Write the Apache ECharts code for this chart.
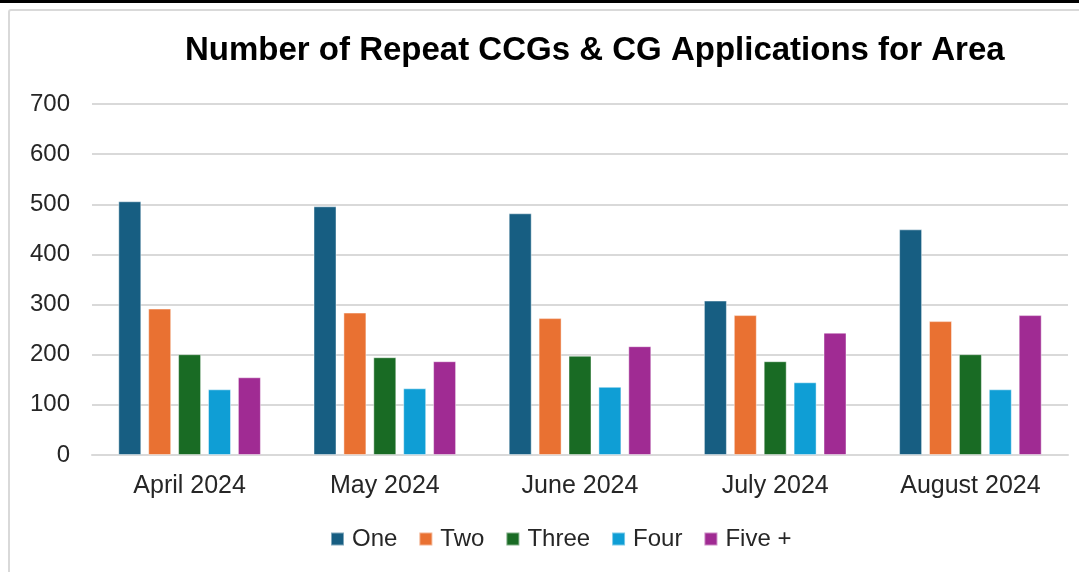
<!DOCTYPE html>
<html>
<head>
<meta charset="utf-8">
<script src="https://cdn.jsdelivr.net/npm/echarts@6/dist/echarts.min.js"></script>
<style>
  html, body { margin: 0; padding: 0; background: #fff; }
  .topbar { position: absolute; left: 0; top: 0; width: 1079px; height: 3px; background: #000; }
  .frame { position: absolute; left: 8px; top: 9px; width: 1100px; height: 600px; border: 2px solid #d9d9d9; border-radius: 3px; }
  #chart { position: absolute; left: 0; top: 0; width: 1079px; height: 572px; }
</style>
</head>
<body>
<div class="topbar"></div>
<div class="frame"></div>
<div id="chart"></div>
<script>
// months on the x axis
var months = ['April 2024', 'May 2024', 'June 2024', 'July 2024', 'August 2024'];
// number of repeat applications per group
var one   = [506, 496, 482, 308, 450];
var two   = [292, 284, 273, 279, 267];
var three = [201, 195, 198, 187, 201];
var four  = [131, 133, 136, 145, 131];
var five  = [155, 187, 217, 244, 279];
var seriesNames = ['One', 'Two', 'Three', 'Four', 'Five +'];
var colors = ['#175E82', '#E97132', '#196B24', '#0F9ED5', '#A02B93'];

var txt = '#262626';
var font = 'Liberation Sans, Arial, sans-serif';

function bar(name, data, i) {
  return {
    name: name,
    type: 'bar',
    data: data,
    barWidth: 23,
    barGap: '30%',
    itemStyle: {
      color: colors[i],
      borderColor: 'rgba(255,255,255,0.45)',
      borderWidth: 1
    }
  };
}

var myChart = echarts.init(document.getElementById('chart'));
myChart.setOption({
  animation: false,
  title: {
    text: 'Number of Repeat CCGs & CG Applications for Area',
    left: 185,
    top: 34,
    padding: 0,
    textStyle: { color: '#000', fontSize: 33, fontWeight: 'bold', fontFamily: font }
  },
  legend: {
    data: seriesNames,
    top: 527,
    left: 330,
    padding: 0,
    itemWidth: 13,
    itemHeight: 13,
    itemGap: 21,
    icon: 'rect',
    textStyle: { color: txt, fontSize: 24, fontFamily: font, padding: [0, 0, 0, 3] }
  },
  grid: { left: 92, right: 11, top: 104, bottom: 117 },
  xAxis: {
    type: 'category',
    data: months,
    axisLine: { lineStyle: { color: '#d9d9d9', width: 2 } },
    axisTick: { show: false },
    axisLabel: { color: txt, fontSize: 25, fontFamily: font, margin: 19 }
  },
  yAxis: {
    type: 'value',
    min: 0,
    max: 700,
    interval: 100,
    axisLine: { show: false },
    axisTick: { show: false },
    splitLine: { lineStyle: { color: '#d9d9d9', width: 2 } },
    axisLabel: { color: txt, fontSize: 24, fontFamily: font, margin: 22 }
  },
  series: [
    bar(seriesNames[0], one, 0),
    bar(seriesNames[1], two, 1),
    bar(seriesNames[2], three, 2),
    bar(seriesNames[3], four, 3),
    bar(seriesNames[4], five, 4)
  ]
});
</script>
</body>
</html>
